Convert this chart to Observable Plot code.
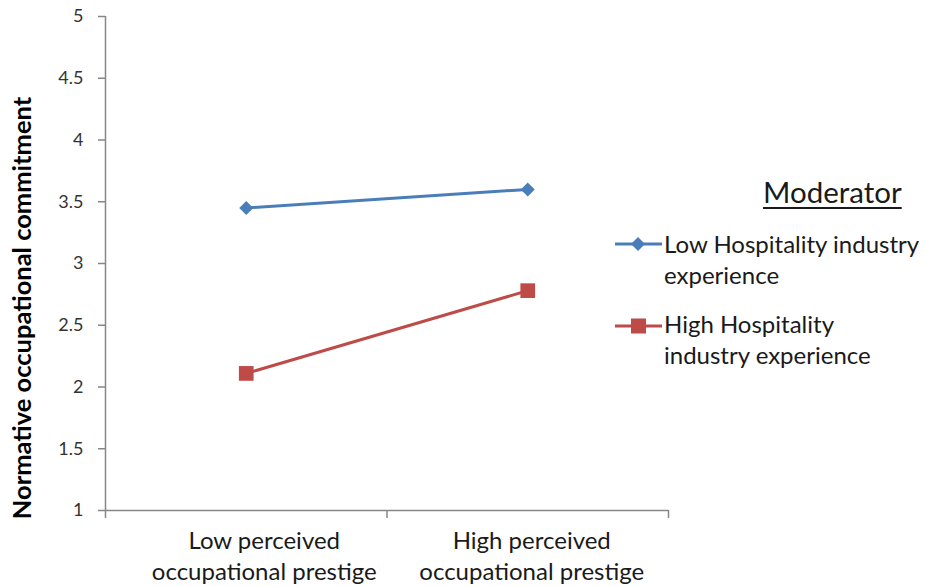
<!DOCTYPE html>
<html>
<head>
<meta charset="utf-8">
<script src="https://cdn.jsdelivr.net/npm/d3@7"></script>
<script src="https://cdn.jsdelivr.net/npm/@observablehq/plot@0.6"></script>
<style>
  body { margin: 0; background: #fff; font-family: Lato, "Noto Sans", sans-serif; }
  #wrap { position: relative; width: 925px; height: 587px; }
  .lg { position: absolute; color: #1a1a1a; white-space: nowrap; }
  .lg-title { left: 763px; top: 174px; font-size: 29.5px; line-height: 36px; text-decoration: underline; text-decoration-thickness: 1.5px; text-underline-offset: 4px; }
  .lg-txt { left: 664px; font-size: 24px; line-height: 31px; }
  .lg-sym { position: absolute; left: 614px; }
</style>
</head>
<body>
<div id="wrap"></div>
<script>
const categories = ["Low perceived\noccupational prestige", "High perceived\noccupational prestige"];
const seriesNames = ["Low Hospitality industry experience", "High Hospitality industry experience"];
const legendLines = [["Low Hospitality industry", "experience"], ["High Hospitality", "industry experience"]];
const legendTitle = "Moderator";
const lowExperience = [3.45, 3.60];
const highExperience = [2.11, 2.78];
const yTicks = [1, 1.5, 2, 2.5, 3, 3.5, 4, 4.5, 5];
const yLabel = "Normative occupational commitment";
const colors = ["#4a7ebb", "#be4b48"];

const data = [];
categories.forEach((c, i) => {
  data.push({series: seriesNames[0], x: i + 0.5, y: lowExperience[i]});
  data.push({series: seriesNames[1], x: i + 0.5, y: highExperience[i]});
});
const catData = categories.map((c, i) => ({label: c, x: i + 0.5}));
const labelShift = [18, 4];

const axisColor = "#868686";
const chart = Plot.plot({
  width: 925,
  height: 587,
  marginLeft: 105,
  marginRight: 257,
  marginTop: 16,
  marginBottom: 77,
  style: {fontFamily: "Lato, 'Noto Sans', sans-serif", background: "#fff"},
  x: {domain: [0, categories.length], axis: null},
  y: {domain: [1, 5], axis: null},
  color: {domain: seriesNames, range: colors},
  marks: [
    Plot.ruleX([0], {stroke: axisColor, strokeWidth: 1.5}),
    Plot.ruleY([1], {stroke: axisColor, strokeWidth: 1.5}),
    Plot.axisY({ticks: yTicks, tickSize: 7, tickFormat: () => "", stroke: axisColor, strokeWidth: 1.5, label: null}),
    Plot.text(yTicks, {y: d => d, frameAnchor: "left", textAnchor: "end", dx: -22, text: d => String(d), fontSize: 18, fill: "#333"}),
    Plot.axisX({ticks: d3.range(categories.length + 1), tickSize: 8, tickFormat: () => "", stroke: axisColor, strokeWidth: 1.5, label: null}),
    ...catData.map((d, i) => Plot.text([d], {x: "x", text: "label", frameAnchor: "bottom", lineAnchor: "top", dy: 16, dx: labelShift[i], fontSize: 24, lineHeight: 1.3, fill: "#1a1a1a"})),
    Plot.text([yLabel], {frameAnchor: "left", textAnchor: "middle", lineAnchor: "middle", dx: -83, dy: 44.5, rotate: -90, fontSize: 25.5, fontWeight: "bold", fill: "#000"}),
    Plot.line(data, {x: "x", y: "y", z: "series", stroke: "series", strokeWidth: 3}),
    Plot.dot(data.filter(d => d.series === seriesNames[0]), {x: "x", y: "y", fill: "series", symbol: () => "diamond2", r: 6.3, stroke: "none"}),
    Plot.dot(data.filter(d => d.series === seriesNames[1]), {x: "x", y: "y", fill: "series", symbol: () => "square", r: 8.3, stroke: "none"})
  ]
});
const wrap = document.getElementById("wrap");
wrap.appendChild(chart);

const title = document.createElement("div");
title.className = "lg lg-title";
title.textContent = legendTitle;
wrap.appendChild(title);

const itemTops = [228, 308];
legendLines.forEach((lines, i) => {
  const t = document.createElement("div");
  t.className = "lg lg-txt";
  t.style.top = itemTops[i] + "px";
  t.innerHTML = lines.join("<br>");
  wrap.appendChild(t);
  const s = document.createElementNS("http://www.w3.org/2000/svg", "svg");
  s.setAttribute("class", "lg-sym");
  s.setAttribute("width", 50);
  s.setAttribute("height", 34);
  s.style.top = (itemTops[i]) + "px";
  const cy = i === 0 ? 16 : 18;
  const marker = i === 0
    ? `<path d="M24,${cy-7} L31,${cy} L24,${cy+7} L17,${cy} Z" fill="${colors[i]}"/>`
    : `<rect x="17" y="${cy-7.5}" width="15" height="15" fill="${colors[i]}"/>`;
  s.innerHTML = `<line x1="1" y1="${cy}" x2="48" y2="${cy}" stroke="${colors[i]}" stroke-width="3"/>` + marker;
  wrap.appendChild(s);
});
</script>
</body>
</html>
